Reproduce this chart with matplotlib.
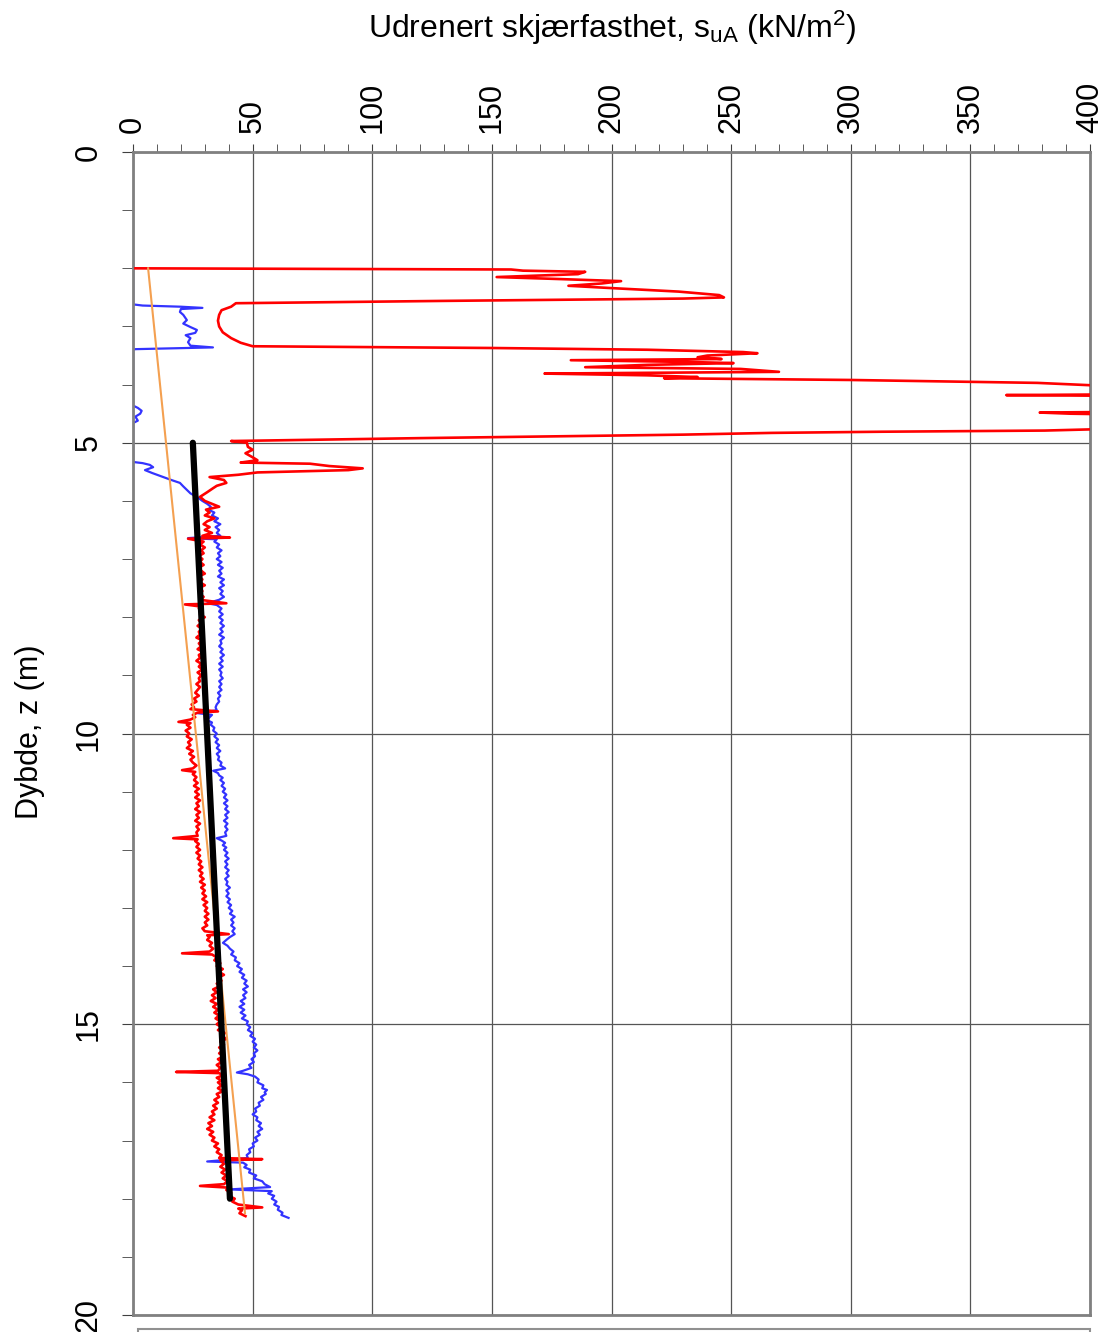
import matplotlib
matplotlib.use("Agg")
import matplotlib.pyplot as plt
from matplotlib.ticker import MultipleLocator
from matplotlib.patches import Rectangle

plt.rcParams['font.family'] = ['Liberation Sans', 'DejaVu Sans']
plt.rcParams['mathtext.fontset'] = 'custom'
plt.rcParams['mathtext.rm'] = 'Liberation Sans'
plt.rcParams['mathtext.it'] = 'Liberation Sans'

# Undrained shear strength, series 1 (red): crust / upper layer down to ~6 m
red_depth_top = [2.00, 2.02, 2.04, 2.06, 2.10, 2.15, 2.18, 2.22, 2.26, 2.30, 2.34, 2.40, 2.46, 2.50, 2.52, 2.56,
                 2.60, 2.66, 2.72, 2.80, 2.90, 3.00, 3.10, 3.20, 3.28, 3.34,
                 3.37, 3.40, 3.44, 3.46, 3.50, 3.53, 3.56, 3.58, 3.61, 3.63, 3.66, 3.70, 3.73, 3.78, 3.81, 3.84,
                 3.87, 3.89, 3.92, 3.97, 4.01, 4.05, 4.16, 4.18, 4.20, 4.46, 4.48, 4.50, 4.53, 4.74, 4.77, 4.79,
                 4.81, 4.83, 4.86, 4.92, 4.97,
                 5.00, 5.07, 5.12, 5.18, 5.25, 5.30, 5.34, 5.36, 5.40, 5.44, 5.47, 5.51, 5.55, 5.59, 5.64, 5.69,
                 5.74, 5.78, 5.85, 5.93]
red_su_top = [1, 158, 163, 189, 186, 152, 175, 204, 196, 182, 200, 228, 245, 247, 230, 130,
              43, 41, 37, 36, 35.5, 36, 37.5, 41, 45, 50,
              150, 215, 255, 261, 240, 236, 246, 183, 232, 251, 215, 189, 254, 270, 172, 215,
              236, 222, 300, 378, 400, 440, 440, 365, 440, 440, 379, 392, 440, 440, 400, 381,
              313, 267, 230, 120, 41,
              47.6, 48, 50, 47, 50, 52, 45, 74, 82, 96, 90, 52, 44, 32, 38, 39,
              35, 33.5, 31, 28]

# Series 1 (red): clay below 6 m
red_depth_clay = [
    6.00, 6.05, 6.10, 6.15, 6.20, 6.25, 6.30, 6.35, 6.40, 6.45, 6.50, 6.55, 6.60, 6.63, 6.65, 6.70, 6.75,
    6.80, 6.85, 6.90, 6.95, 7.00, 7.05, 7.10, 7.15, 7.20, 7.25, 7.30, 7.35, 7.40, 7.45, 7.50, 7.55, 7.60,
    7.65, 7.70, 7.76, 7.78, 7.82, 7.85, 7.90, 7.95, 8.00, 8.05, 8.10, 8.15, 8.20, 8.25, 8.30, 8.35, 8.40,
    8.45, 8.50, 8.55, 8.60, 8.65, 8.70, 8.75, 8.80, 8.85, 8.90, 8.95, 9.00, 9.05, 9.10, 9.15, 9.20, 9.25,
    9.30, 9.35, 9.40, 9.45, 9.50, 9.55, 9.58, 9.62, 9.64, 9.68, 9.72, 9.76, 9.80, 9.82, 9.85, 9.90, 9.95,
    10.00, 10.05, 10.10, 10.15, 10.20, 10.25, 10.30, 10.35, 10.40, 10.45, 10.50, 10.55, 10.60, 10.63,
    10.66, 10.70, 10.75, 10.80, 10.85, 10.90, 10.95, 11.00, 11.05, 11.10, 11.15, 11.20, 11.25, 11.30,
    11.35, 11.40, 11.45, 11.50, 11.55, 11.60, 11.65, 11.70, 11.76, 11.80, 11.82, 11.85, 11.90, 11.95,
    12.00, 12.05, 12.10, 12.15, 12.20, 12.25, 12.30, 12.35, 12.40, 12.45, 12.50, 12.55, 12.60, 12.65,
    12.70, 12.75, 12.80, 12.85, 12.90, 12.95, 13.00, 13.05, 13.10, 13.15, 13.20, 13.25, 13.30, 13.35,
    13.40, 13.45, 13.47, 13.50, 13.55, 13.60, 13.65, 13.70, 13.75, 13.78, 13.80, 13.85, 13.90, 13.95,
    14.00, 14.05, 14.10, 14.15, 14.20, 14.25, 14.30, 14.35, 14.40, 14.45, 14.50, 14.55, 14.60, 14.65,
    14.70, 14.75, 14.80, 14.85, 14.90, 14.95, 15.00, 15.05, 15.10, 15.15, 15.20, 15.25, 15.30, 15.35,
    15.40, 15.45, 15.50, 15.55, 15.60, 15.65, 15.70, 15.75, 15.80, 15.82, 15.84, 15.88, 15.92, 15.97,
    16.00, 16.05, 16.10, 16.15, 16.20, 16.25, 16.30, 16.35, 16.40, 16.45, 16.50, 16.55, 16.60, 16.65,
    16.70, 16.75, 16.80, 16.85, 16.90, 16.95, 17.00, 17.05, 17.10, 17.15, 17.20, 17.25, 17.30, 17.32,
    17.34, 17.40, 17.45, 17.50, 17.55, 17.60, 17.65, 17.70, 17.75, 17.78, 17.81, 17.85, 17.90, 17.95,
    18.00, 18.05, 18.10, 18.15, 18.17, 18.20, 18.25, 18.30]
red_su_clay = [
    30, 33, 36, 30.5, 32, 30, 34, 31, 29.5, 32, 30, 33, 29, 40.5, 23, 29.5, 28,
    30, 28.5, 29.5, 27.5, 29, 28, 29.5, 27.5, 28.5, 30, 27.5, 29, 28, 30, 27.5, 29, 28,
    29.5, 28, 39, 21.7, 29, 27.5, 29, 28, 30, 27.5, 28.5, 27, 29, 27.5, 28, 26.5, 29,
    27.5, 28.5, 27, 29.5, 27.5, 28, 26.5, 28.5, 27.5, 29, 27, 28.5, 27.5, 28, 26.5, 28, 27,
    26, 27.5, 25.5, 26.5, 24.5, 25.5, 24, 35.5, 27, 25, 26, 24, 19, 24, 22.5, 24, 22,
    23.5, 22.5, 24.5, 23, 24, 22.5, 25, 23.5, 25.5, 24, 25, 26.5, 25, 20.5,
    26, 25, 26.5, 25.5, 27, 25.5, 27.5, 26, 27.5, 26, 28, 26.5, 27.5, 26,
    28, 26.5, 27.5, 26, 28, 26.5, 27.5, 26.5, 27, 16.8, 27, 26, 27.5, 26.5,
    28, 26.5, 28, 27, 28.5, 27.5, 29, 27.5, 29, 28, 29.5, 28, 30, 28.5,
    30, 29, 30.5, 29, 31, 29.5, 31, 30, 31.5, 30, 31.5, 30, 31, 29,
    30, 40, 31, 32, 31, 33, 32, 33.5, 32, 20.5, 33, 35, 34, 36.5,
    35, 37.5, 36, 38, 35.5, 37, 35, 36, 33.5, 35, 33, 34.5, 32.5, 35,
    33.5, 35.5, 34, 36, 34.5, 36.5, 35, 37, 35.5, 38.5, 37, 39, 36.5, 38,
    36, 37.5, 36, 38, 35.5, 37, 35, 36.5, 35.5, 18, 36, 37.5, 35, 37,
    35.5, 37, 35.5, 37.5, 35, 36, 34, 35.5, 33.5, 35, 33, 34, 32, 34,
    31.5, 33, 31, 33.5, 32, 34, 33, 35.5, 34, 36, 35, 37, 36, 54,
    36.5, 38, 36.5, 38.5, 37, 39, 37.5, 39.5, 38, 28, 40, 39, 41, 40,
    42.5, 41.5, 44, 54, 44, 45.5, 44.5, 47]

# Undrained shear strength, series 2 (blue): upper layer down to ~6 m
blue_depth_top = [2.00, 2.62, 2.64, 2.66, 2.68, 2.70, 2.75, 2.80, 2.89, 2.95, 3.01, 3.06, 3.11, 3.15, 3.20,
                  3.27, 3.33, 3.36, 3.39, 3.40, 4.36, 4.40, 4.45, 4.50, 4.55, 4.62, 4.66, 5.33, 5.35, 5.38,
                  5.42, 5.47, 5.52, 5.59, 5.64, 5.69, 5.75, 5.81, 5.87, 5.93]
blue_su_top = [0, 0, 4, 20, 29, 20, 19.6, 21, 22.5, 21, 24, 26.7, 26, 22, 24,
               23, 24, 33.4, 1, 0, 0, 2, 3.6, 3, 1, 2, 0, 0, 4, 7,
               8.4, 5, 8, 12.6, 16, 19.6, 21, 22.5, 24, 26.7]

# Series 2 (blue): clay below 6 m
blue_depth_clay = [
    6.00, 6.05, 6.10, 6.15, 6.20, 6.25, 6.30, 6.35, 6.40, 6.45, 6.50, 6.55, 6.60, 6.64, 6.66, 6.70, 6.75,
    6.80, 6.85, 6.90, 6.95, 7.00, 7.05, 7.10, 7.15, 7.20, 7.25, 7.30, 7.35, 7.40, 7.45, 7.50, 7.55, 7.60,
    7.65, 7.70, 7.76, 7.79, 7.85, 7.90, 7.95, 8.00, 8.05, 8.10, 8.15, 8.20, 8.25, 8.30, 8.35, 8.40, 8.45,
    8.50, 8.55, 8.60, 8.65, 8.70, 8.75, 8.80, 8.85, 8.90, 8.95, 9.00, 9.05, 9.10, 9.15, 9.20, 9.25, 9.30,
    9.35, 9.40, 9.45, 9.50, 9.55, 9.60, 9.65, 9.68, 9.72, 9.77, 9.81, 9.85, 9.90, 9.95, 10.00, 10.05,
    10.10, 10.15, 10.20, 10.25, 10.30, 10.35, 10.40, 10.45, 10.50, 10.55, 10.60, 10.64, 10.68, 10.72,
    10.76, 10.80, 10.85, 10.90, 10.95, 11.00, 11.05, 11.10, 11.15, 11.20, 11.25, 11.30, 11.35, 11.40,
    11.45, 11.50, 11.55, 11.60, 11.65, 11.70, 11.76, 11.80, 11.84, 11.88, 11.92, 11.96, 12.00, 12.05,
    12.10, 12.15, 12.20, 12.25, 12.30, 12.35, 12.40, 12.45, 12.50, 12.55, 12.60, 12.65, 12.70, 12.75,
    12.80, 12.85, 12.90, 12.95, 13.00, 13.05, 13.10, 13.15, 13.20, 13.25, 13.30, 13.35, 13.40, 13.45,
    13.50, 13.55, 13.60, 13.65, 13.70, 13.75, 13.80, 13.85, 13.90, 13.95, 14.00, 14.05, 14.10, 14.15,
    14.20, 14.25, 14.30, 14.35, 14.40, 14.45, 14.50, 14.55, 14.60, 14.65, 14.70, 14.75, 14.80, 14.85,
    14.90, 14.95, 15.00, 15.05, 15.10, 15.15, 15.20, 15.25, 15.30, 15.35, 15.40, 15.45, 15.50, 15.55,
    15.60, 15.65, 15.70, 15.75, 15.80, 15.83, 15.86, 15.90, 15.95, 16.00, 16.05, 16.10, 16.13, 16.17,
    16.20, 16.25, 16.30, 16.35, 16.40, 16.45, 16.50, 16.55, 16.60, 16.65, 16.70, 16.75, 16.80, 16.85,
    16.90, 16.95, 17.00, 17.05, 17.10, 17.15, 17.20, 17.25, 17.30, 17.36, 17.38, 17.42, 17.46, 17.50,
    17.55, 17.60, 17.65, 17.70, 17.75, 17.80, 17.84, 17.87, 17.91, 17.95, 18.00, 18.05, 18.10, 18.14,
    18.19, 18.24, 18.28, 18.33]
blue_su_clay = [
    29, 31, 32.5, 31.5, 34, 33, 35.5, 34, 36.5, 34.5, 36, 35, 36.5, 23, 35, 34, 36,
    35, 37, 35.5, 36.5, 35, 37, 35.5, 37.5, 36, 37, 35.5, 38, 36.5, 38, 36, 37.5, 36.5,
    38, 36, 31, 35, 37, 36, 37.5, 36, 37.5, 36.5, 38, 36.5, 37.5, 36, 38, 36.5, 37,
    36, 37.5, 36.5, 38, 36.5, 37.5, 36, 37.5, 36, 37, 36.5, 37.5, 36, 37, 36, 37, 35.5,
    36.5, 35.5, 36, 35, 34.5, 35, 27, 33, 32, 31, 33, 32.5, 34, 33.5, 35, 34,
    35.5, 34.5, 36, 35, 36.5, 35, 36, 35.5, 37, 36.5, 38.5, 33.5, 35.5, 36,
    37.5, 36.5, 38, 37, 38.5, 37.5, 39, 38, 39.5, 38, 39.5, 38.5, 40, 38.5,
    39.5, 38, 39.5, 38.5, 39.5, 38.5, 39, 35, 37, 38.5, 37.5, 39, 38, 39.5,
    38.5, 40, 38.5, 39.5, 38.5, 40, 39, 40, 38.5, 39.5, 39, 40.5, 39, 40,
    39, 40.5, 39.5, 41, 40, 41.5, 40.5, 42.5, 41, 42, 41, 42.5, 41.5, 42.5,
    40.5, 39, 37.6, 39.5, 40.5, 42, 41, 43, 42.5, 44.5, 43.5, 45.5, 44.5, 46.5,
    45.5, 47.5, 46.5, 48, 46, 47.5, 46, 47, 45, 46.5, 44.5, 46.5, 45, 47,
    45.5, 48, 47.5, 49, 48, 50, 49, 51, 50, 51.5, 50.5, 52, 50.5, 51,
    49.5, 50.5, 48.5, 49.5, 46, 43.4, 48, 51, 52.5, 52, 54.5, 54, 56, 55,
    55.5, 53.5, 54.5, 52.5, 53, 51, 51.5, 50, 52, 51.5, 53.5, 52.5, 54, 52,
    53, 51, 52, 50, 50.5, 48.5, 49, 47.5, 48, 31, 46, 47.5, 46.5, 49,
    48.5, 51.5, 50.5, 54, 55, 57.3, 40.5, 58, 56.5, 59, 58, 60, 59, 61,
    60.5, 62.5, 62, 65]

red_depth = red_depth_top + red_depth_clay
red_su = red_su_top + red_su_clay
blue_depth = blue_depth_top + blue_depth_clay
blue_su = blue_su_top + blue_su_clay

# Linear strength profiles
orange_depth = [2.0, 18.25]
orange_su = [6.3, 46.8]
design_depth = [5.0, 18.0]
design_su = [25.0, 40.5]

x_ticks = [0, 50, 100, 150, 200, 250, 300, 350, 400]
y_ticks = [0, 5, 10, 15, 20]

fig = plt.figure(figsize=(11.04, 13.32), dpi=100)
ax = fig.add_axes([0.1205, 0.01276, 0.8668, 0.8731])

ax.plot(red_su, red_depth, color='#FF0000', lw=1.9, zorder=3)
ax.plot(blue_su, blue_depth, color='#3333FF', lw=1.6, zorder=2)
ax.plot(orange_su, orange_depth, color='#F4A050', lw=1.5, zorder=4)
ax.plot(design_su, design_depth, color='black', lw=4.5, solid_capstyle='round', zorder=5)

ax.set_xlim(0, 400)
ax.set_ylim(20, 0)

ax.xaxis.tick_top()
ax.set_xticks(x_ticks)
ax.set_yticks(y_ticks)
ax.xaxis.set_minor_locator(MultipleLocator(10))
ax.yaxis.set_minor_locator(MultipleLocator(1))
ax.tick_params(axis='x', which='both', direction='out', labelsize=22, pad=8,
               labelrotation=90, color='#404040', length=6)
ax.tick_params(axis='y', which='both', direction='out', labelsize=22, pad=13,
               labelrotation=90, color='#404040', length=8)
for lab in ax.get_xticklabels():
    lab.set_ha('center')
    lab.set_va('bottom')
for lab in ax.get_yticklabels():
    lab.set_va('center')
    lab.set_ha('right')

ax.grid(True, which='major', color='#555555', lw=0.9)
ax.set_axisbelow(True)
for s in ax.spines.values():
    s.set_color('#808080')
    s.set_linewidth(2)

fig.text(0.555, 0.979, r'Udrenert skjærfasthet, s$_{\mathregular{uA}}$ (kN/m$^{\mathregular{2}}$)',
         ha='center', va='center', fontsize=23)
fig.text(0.027, 0.451, 'Dybde, z (m)', rotation=90, ha='center', va='center', fontsize=22)

# Legend frame just below the plot area
fig.patches.append(Rectangle((138 / 1104, -0.02), (1090 - 138) / 1104, 0.02 + 3 / 1332,
                             transform=fig.transFigure, fill=False, edgecolor='#909090', lw=1.5))

fig.savefig('out.png', dpi=100)
